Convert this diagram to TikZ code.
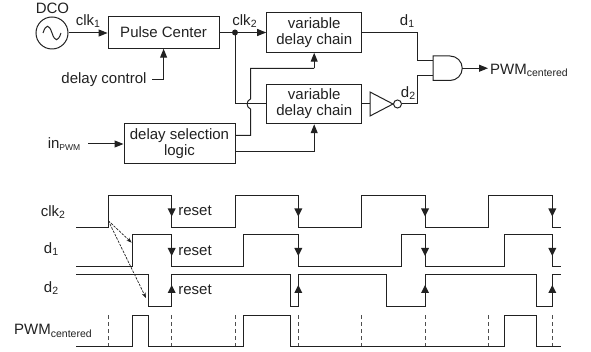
\documentclass[tikz,border=0pt]{standalone}
\usepackage{fontspec}
\setmainfont{Liberation Sans}
\usetikzlibrary{arrows.meta,calc}
\definecolor{ink}{gray}{0.13}
\tikzset{
  x=1pt,y=-1pt,
  every path/.append style={line join=miter},
  wire/.style={draw=ink,line width=1pt},
  arr/.style={wire,-{Triangle[length=9pt,width=7pt]}},
  blk/.style={draw=ink,line width=1pt,align=center,inner sep=0pt,font=\fontsize{15}{15}\selectfont,text=ink},
  lbl/.style={inner sep=0pt,font=\fontsize{15}{15}\selectfont,text=ink},
  wave/.style={draw=ink,line width=1pt},
  tick/.style={draw=ink!80,line width=0.8pt,dash pattern=on 4pt off 3pt},
  dasharr/.style={draw=ink,line width=0.7pt,dash pattern=on 2.5pt off 1.2pt,-{Stealth[length=5.5pt,width=4pt]}},
}
\newcommand{\SubT}[2]{#1\raisebox{-2.5pt}{\fontsize{10.5}{10.5}\selectfont #2}}
\newcommand{\ArrDn}[2]{\fill[ink] (#1-4,#2-8) -- (#1+4,#2-8) -- (#1,#2) -- cycle;}
\newcommand{\ArrUp}[2]{\fill[ink] (#1-4,#2+8) -- (#1+4,#2+8) -- (#1,#2) -- cycle;}
\begin{document}
\begin{tikzpicture}
\useasboundingbox (0,0) rectangle (591,352);
% blocks
\node[blk,minimum width=111pt,minimum height=31.5pt] (pc) at (163.6,32.5) {Pulse Center};
\node[blk,minimum width=95pt,minimum height=39.5pt] (v1) at (314.2,32.5) {variable\\[1pt]delay chain};
\node[blk,minimum width=95pt,minimum height=39.5pt] (v2) at (314.2,104) {variable\\[1pt]delay chain};
\node[blk,minimum width=111pt,minimum height=39.5pt] (ds) at (179.5,143.7) {delay selection\\[1pt]logic};
% DCO
\node[draw=ink,line width=1pt,circle,minimum size=32pt,inner sep=0pt] (dco) at (52,33) {};
\draw[ink,line width=1pt] (43,33) .. controls (46,24) and (49,24) .. (52,33) .. controls (55,42) and (58,42) .. (61,33);
\node[lbl] (dcol) at (52.5,8) {DCO};
\node[lbl] (clk1) at (88,21) {\SubT{clk}{1}};
\node[lbl] (clk2) at (244.5,21) {\SubT{clk}{2}};
\node[lbl] (dc) at (104,80) {delay control};
\node[lbl] (inp) at (64,144) {in\raisebox{-2.5pt}{\fontsize{8.5}{8.5}\selectfont PWM}};
\node[lbl] (d1l) at (407,21) {\SubT{d}{1}};
\node[lbl] (d2l) at (408,93) {\SubT{d}{2}};
\node[lbl,anchor=west] (pwm) at (490,70.5) {\SubT{PWM}{centered}};
% coordinates
\coordinate (j) at (235,32.5);
\coordinate (dcs) at (152,80);
\coordinate (inps) at (88,144);
% connectors
\draw[arr] (dco.east) -- (dco.east -| pc.west);
\draw[arr] (pc.east |- j) -- (v1.west |- j);
\fill[ink] (j) circle (3pt);
\draw[arr] (dcs) -| (pc.south);
\draw[arr] (inps) -- (ds.west |- inps);
% clk2 to second chain
\draw[wire] (j) -- (235,104) -- (v2.west);
% selection wire hops over it
\draw[wire] (ds.east |- 0,135.5) -- (250.5,135.5) -- (250.5,109) .. controls (246,107.5) and (246,100.5) .. (250.5,99) -- (250.5,68.5) -- (314.2,68.5);
\draw[arr] (314.2,68.5) -- (v1.south);
\draw[wire] (ds.east |- 0,152) -- (314.2,152);
\draw[arr] (314.2,152) -- (v2.south);
% inverter
\draw[wire,fill=white] (370,92) -- (370,116) -- (393,104) -- cycle;
\coordinate (invin) at (370,104);
\draw[wire] (v2.east |- invin) -- (invin);
\node[draw=ink,line width=1pt,circle,minimum size=8pt,inner sep=0pt] (bub) at (397.5,104) {};
% AND
\draw[wire] (433,56) -- (450,56) arc[start angle=-90,end angle=90,radius=12.25] -- (433,80.5) -- cycle;
\coordinate (ao) at (462.2,68.25);
\coordinate (a1) at (433,60.5);
\coordinate (a2) at (433,76);
\draw[wire] (v1.east |- j) -- (417.5,32.5) -- (417.5,60.5) -- (a1);
\draw[wire] (bub.east) -- (417.5,104) -- (417.5,76) -- (a2);
\draw[arr] (ao) -- (488,68.25);
% timing labels
\node[lbl] (tc) at (53,212) {\SubT{clk}{2}};
\node[lbl] (t1) at (51,249) {\SubT{d}{1}};
\node[lbl] (t2) at (51,288) {\SubT{d}{2}};
\node[lbl,anchor=west] (tp) at (14,331) {\SubT{PWM}{centered}};
\node[lbl] (r1) at (195,211) {reset};
\node[lbl] (r2) at (195,251) {reset};
\node[lbl] (r3) at (195,290) {reset};
% waves
\draw[wave] (76,227.3) -- (108,227.3) -- (108,195.5) -- (171.7,195.5) -- (171.7,227.3) -- (235,227.3) -- (235,195.5) -- (298.3,195.5) -- (298.3,227.3) -- (361.7,227.3) -- (361.7,195.5) -- (425,195.5) -- (425,227.3) -- (488.7,227.3) -- (488.7,195.5) -- (552.3,195.5) -- (552.3,227.3) -- (560.7,227.3);
\draw[wave] (76,267) -- (132,267) -- (132,235) -- (171.7,235) -- (171.7,267) -- (243.3,267) -- (243.3,235) -- (298.3,235) -- (298.3,267) -- (401.7,267) -- (401.7,235) -- (425,235) -- (425,267) -- (504.7,267) -- (504.7,235) -- (552.3,235) -- (552.3,267) -- (560.7,267);
\draw[wave] (76,275) -- (148,275) -- (148,306.7) -- (171.7,306.7) -- (171.7,275) -- (290,275) -- (290,306.7) -- (298.3,306.7) -- (298.3,275) -- (386,275) -- (386,306.7) -- (425,306.7) -- (425,275) -- (536.7,275) -- (536.7,306.7) -- (552.3,306.7) -- (552.3,275) -- (560.7,275);
\draw[wave] (76,346) -- (132,346) -- (132,315) -- (148,315) -- (148,346) -- (243.3,346) -- (243.3,315) -- (290,315) -- (290,346) -- (504.7,346) -- (504.7,315) -- (536.7,315) -- (536.7,346) -- (560.7,346);
% dashed ticks
\foreach \xx in {108,171.7,235,298.3,361.7,425,488.7,552.3}{\draw[tick] (\xx,315) -- (\xx,346);}
% edge arrowheads
\foreach \xx in {171.7,298.3,425,552.3}{\ArrDn{\xx}{216.5}\ArrDn{\xx}{256}\ArrUp{\xx}{285}}
% causal arrows
\coordinate (c0) at (108.3,220.7);
\coordinate (c1) at (131.7,242.7);
\coordinate (c2) at (146,298);
\draw[dasharr] (c0) -- (c1);
\draw[dasharr] (c0) -- (c2);
\end{tikzpicture}
\end{document}
